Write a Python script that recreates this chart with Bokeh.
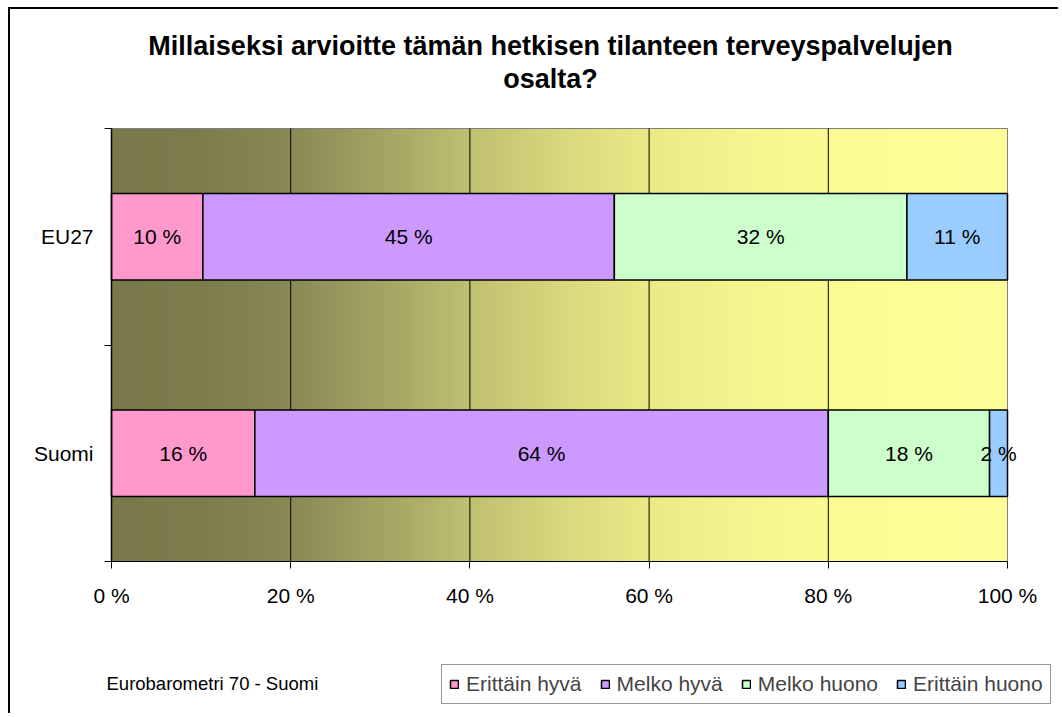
import numpy as np
from bokeh.plotting import figure
from bokeh.models import (Range1d, FixedTicker, Label, LabelSet, Legend, LegendItem,
                          ColumnDataSource)
from bokeh.core.properties import value
from bokeh.embed import file_html
from bokeh.resources import INLINE

# ---------------- data ----------------
categories = ["EU27", "Suomi"]
series_names = ["Erittäin hyvä", "Melko hyvä", "Melko huono", "Erittäin huono"]
erittain_hyva = [10, 16]
melko_hyva = [45, 64]
melko_huono = [32, 18]
erittain_huono = [11, 2]
series_values = [erittain_hyva, melko_hyva, melko_huono, erittain_huono]
series_colors = ["#FF99CC", "#CC99FF", "#CCFFCC", "#99CCFF"]
x_ticks = [0, 20, 40, 60, 80, 100]
x_tick_labels = ["0 %", "20 %", "40 %", "60 %", "80 %", "100 %"]
title_lines = ["Millaiseksi arvioitte tämän hetkisen tilanteen terveyspalvelujen", "osalta?"]
footnote = "Eurobarometri 70 - Suomi"

FONT = "Liberation Sans"

# ---------------- layout (pixels) ----------------
W, H = 1050, 706                 # canvas size
PLOT_L, PLOT_R = 101, 997        # plot area left/right inside canvas
PLOT_T, PLOT_B = 119, 552        # plot area top/bottom inside canvas

n = len(categories)
y_pos = [n - i - 0.5 for i in range(n)]
x_lo, x_hi = x_ticks[0], x_ticks[-1]
ppx = (PLOT_R - PLOT_L) / (x_hi - x_lo)
ppy = (PLOT_B - PLOT_T) / n

p = figure(width=W, height=H, output_backend="svg", toolbar_location=None,
           x_range=Range1d(x_lo - PLOT_L / ppx, x_hi + (W - PLOT_R) / ppx),
           y_range=Range1d(-(H - PLOT_B) / ppy, n + PLOT_T / ppy),
           min_border=0)
p.styles = {"margin-left": "8px", "margin-top": "7px",
            "border-left": "2px solid black", "border-top": "2px solid black"}
p.background_fill_color = "white"
p.border_fill_color = "white"
p.outline_line_color = None
p.xgrid.visible = False
p.ygrid.visible = False

# background gradient (olive -> light yellow)
stops_t = [0.0, 0.1, 0.2, 0.3, 0.4, 0.5, 0.6, 0.7, 0.8, 0.9, 1.0]
stops_r = [121, 124, 138, 163, 192, 216, 234, 245, 251, 254, 255]
stops_b = [75, 77, 87, 100, 113, 125, 135, 143, 148, 151, 153]
N = 600
t = np.linspace(0, 1, N)
img = np.empty((1, N), dtype=np.uint32)
view = img.view(dtype=np.uint8).reshape((1, N, 4))
rr = np.interp(t, stops_t, stops_r).astype(np.uint8)
bb = np.interp(t, stops_t, stops_b).astype(np.uint8)
view[0, :, 0] = rr
view[0, :, 1] = rr
view[0, :, 2] = bb
view[0, :, 3] = 255
p.image_rgba(image=[img], x=x_lo, y=0, dw=x_hi - x_lo, dh=n, level="image")

# plot-area border (grey) and vertical grid lines
p.quad(left=[x_lo], right=[x_hi], bottom=[0], top=[n], fill_color=None,
       line_color="#808080", line_width=1)
inner = x_ticks[1:-1]
p.segment(x0=inner, y0=[0] * len(inner), x1=inner, y1=[n] * len(inner),
          line_color="black", line_width=1)

# bars
totals = [sum(s[i] for s in series_values) for i in range(n)]
cum = [0.0] * n
items = []
for name, vals, col in zip(series_names, series_values, series_colors):
    share = [vals[i] / totals[i] * 100 for i in range(n)]
    left = cum[:]
    right = [left[i] + share[i] for i in range(n)]
    src = ColumnDataSource(dict(
        y=y_pos, left=left, right=right,
        mid=[(left[i] + right[i]) / 2 for i in range(n)],
        label=[f"{v} %" for v in vals]))
    r = p.hbar(y="y", left="left", right="right", height=0.4, source=src,
               fill_color=col, line_color="black", line_width=1.5)
    items.append(LegendItem(label=name, renderers=[r]))
    lbl = LabelSet(x="mid", y="y", text="label", source=src, text_align="center",
                   text_baseline="middle", text_font=value(FONT),
                   text_font_size=value("21px"), text_color="black")
    p.add_layout(lbl)
    cum = right

# axes (fixed at the plot-area edges)
xa = p.xaxis[0]
xa.fixed_location = 0
xa.bounds = (x_lo, x_hi)
xa.ticker = FixedTicker(ticks=x_ticks)
xa.major_label_overrides = {k: v for k, v in zip(x_ticks, x_tick_labels)}
xa.major_tick_in = 0
xa.major_tick_out = 7
xa.minor_tick_line_color = None
xa.axis_line_color = "black"
xa.major_tick_line_color = "black"
xa.major_label_text_font = FONT
xa.major_label_text_font_size = "21px"
xa.major_label_text_color = "black"
xa.major_label_standoff = 15

ya = p.yaxis[0]
ya.fixed_location = x_lo
ya.bounds = (0, n)
ya.ticker = FixedTicker(ticks=y_pos, minor_ticks=list(range(n + 1)))
ya.major_label_overrides = {y: c for y, c in zip(y_pos, categories)}
ya.major_tick_line_color = None
ya.major_tick_out = 0
ya.major_tick_in = 0
ya.minor_tick_in = 0
ya.minor_tick_out = 7
ya.minor_tick_line_color = "black"
ya.axis_line_color = "black"
ya.axis_line_width = 1.5
ya.major_label_text_font = FONT
ya.major_label_text_font_size = "21px"
ya.major_label_text_color = "black"
ya.major_label_standoff = 11

# title lines (screen units from canvas bottom-left)
for txt, ypx in zip(title_lines, [36, 69]):
    p.add_layout(Label(x=540, y=H - ypx, x_units="screen", y_units="screen", text=txt,
                       text_align="center", text_baseline="middle", text_font=FONT,
                       text_font_style="bold", text_font_size="27px",
                       text_color="black"))
# footnote
p.add_layout(Label(x=96, y=H - 674, x_units="screen", y_units="screen", text=footnote,
                   text_align="left", text_baseline="middle", text_font=FONT,
                   text_font_size="18.5px", text_color="black"))

legend = Legend(items=items, orientation="horizontal", location=(431, H - 695),
                label_text_font=FONT, label_text_font_size="21px",
                glyph_width=10, glyph_height=10, label_standoff=7, spacing=18,
                padding=7, margin=0, border_line_color="#333333", border_line_width=1,
                background_fill_color="white", background_fill_alpha=1)
p.add_layout(legend)

open("out.html", "w").write(file_html(p, INLINE))
